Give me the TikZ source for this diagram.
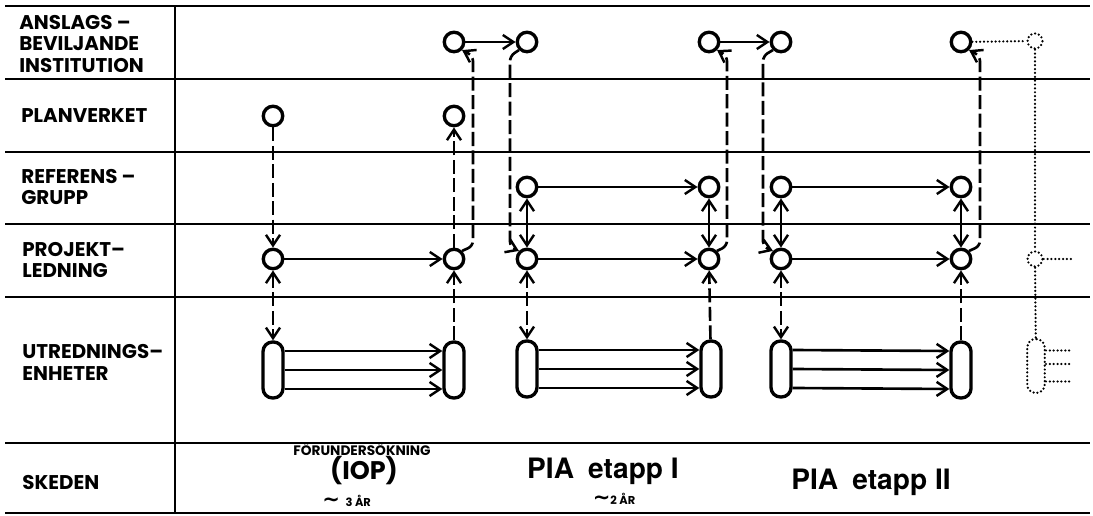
\documentclass[tikz,border=0pt]{standalone}
\usepackage{fontspec}
\usepackage{tikz}
\usetikzlibrary{arrows.meta}
\newfontfamily\labfont{Poppins}
\newfontfamily\helvfont{TeX Gyre Heros}
\newfontfamily\symfont{DejaVu Sans}
\newcommand{\approxsign}{{\symfont\bfseries\fontsize{12}{12}\selectfont ∼}}

\begin{document}
\begin{tikzpicture}[x=0.02cm, y=-0.02cm,
    >={Straight Barb[length=6pt,width=8pt,line width=1.4pt]},
    rule/.style={line width=1.1pt},
    stn/.style={circle, draw, line width=1.9pt, minimum size=0.39cm, inner sep=0pt},
    unit/.style={draw, line width=1.9pt, rounded corners=0.19cm, minimum width=0.4cm,
        minimum height=1.12cm, inner sep=0pt},
    flow/.style={line width=1.5pt},
    dashline/.style={line width=1.5pt, dash pattern=on 8pt off 2.5pt},
    dotline/.style={line width=1.4pt, dash pattern=on 0pt off 2.2pt, line cap=round},
    ghost/.style={circle, draw, dotline, minimum size=0.3cm, inner sep=0pt},
    ghostunit/.style={draw, dotline, rounded corners=0.17cm, minimum width=0.35cm,
        minimum height=1.08cm, inner sep=0pt},
    rowlab/.style={anchor=west, align=left, inner sep=0pt,
        font=\labfont\bfseries\fontsize{11.3}{12.5}\selectfont},
    stage/.style={inner sep=0pt, font=\helvfont\bfseries\fontsize{16}{18}\selectfont},
    small/.style={inner sep=0pt, font=\labfont\bfseries\fontsize{6.5}{7}\selectfont}
    ]
    \useasboundingbox (0,0) rectangle (1093,516);
    % the table
    \foreach \y in {6,79,152,224,297,443,513}
        \draw[rule] (5,\y) -- (1090,\y);
    \draw[rule] (175,6) -- (175,513);

    % row titles
    \node[rowlab] (anslag) at (19,44) {ANSLAGS –\\BEVILJANDE\\INSTITUTION};
    \node[rowlab] (planverk) at (21,116) {PLANVERKET};
    \node[rowlab] (referens) at (21,187) {REFERENS –\\GRUPP};
    \node[rowlab] (projekt) at (22,260) {PROJEKT–\\LEDNING};
    \node[rowlab] (utredn) at (22,362) {UTREDNINGS–\\ENHETER};
    \node[rowlab] (skeden) at (22,483) {SKEDEN};

    % stations, column by column
    \node[stn] (pl1) at (273,116) {};
    \node[stn] (pr1) at (273,259) {};
    \node[unit] (ut1) at (273,370) {};
    \node[stn] (an2) at (454,42) {};
    \node[stn] (pl2) at (454,116) {};
    \node[stn] (pr2) at (454,259) {};
    \node[unit] (ut2) at (454,370) {};
    \node[stn] (an3) at (527,42) {};
    \node[stn] (rf3) at (527,187) {};
    \node[stn] (pr3) at (527,259) {};
    \node[unit] (ut3) at (527,369) {};
    \node[stn] (an4) at (709,42) {};
    \node[stn] (rf4) at (709,187) {};
    \node[stn] (pr4) at (709,259) {};
    \node[unit] (ut4) at (711,369) {};
    \node[stn] (an5) at (781,42) {};
    \node[stn] (rf5) at (781,187) {};
    \node[stn] (pr5) at (781,259) {};
    \node[unit] (ut5) at (781,369) {};
    \node[stn] (an6) at (961,42) {};
    \node[stn] (rf6) at (961,187) {};
    \node[stn] (pr6) at (961,259) {};
    \node[unit] (ut6) at (961,370) {};
    % next stage, only sketched
    \node[ghost] (an7) at (1035,41) {};
    \node[ghost] (pr7) at (1035,259) {};
    \node[ghostunit] (ut7) at (1036,366) {};
    \coordinate (pr7end) at (1073,259);

    % solid flows
    \draw[flow,->] (pr1) -- (pr2);
    \draw[flow,->] (an2) -- (an3);
    \draw[flow,->] (rf3) -- (rf4);
    \draw[flow,->] (pr3) -- (pr4);
    \draw[flow,->] (an4) -- (an5);
    \draw[flow,->] (rf5) -- (rf6);
    \draw[flow,->] (pr5) -- (pr6);
    \foreach \a/\b in {ut1/ut2, ut3/ut4, ut5/ut6}
        \foreach \s in {-0.38cm, 0cm, 0.38cm}
            \draw[flow,->] ([yshift=\s]\a.east) -- ([yshift=\s]\b.west);
    \foreach \c in {3,4,5,6}
        \draw[flow,<->] (rf\c) -- (pr\c);

    % dashed links
    \draw[dashline,->] (pl1) -- (pr1);
    \draw[dashline,<->] (pr1) -- (ut1);
    \draw[dashline,->] (ut2) -- (pr2);
    \draw[dashline,->] (pr2) -- (pl2);
    \draw[dashline,<->] (pr3) -- (ut3);
    \draw[dashline,->] (ut4) -- (pr4);
    \draw[dashline,<->] (pr5) -- (ut5);
    \draw[dashline,->] (ut6) -- (pr6);
    % up to and down from the granting body
    \draw[dashline,->,rounded corners=3pt] (pr2.45) -- (473,246) -- (473,56) -- (an2.-45);
    \draw[dashline,->,rounded corners=3pt] (an3.-135) -- (510,56) -- (510,247) -- (pr3.135);
    \draw[dashline,->,rounded corners=3pt] (pr4.45) -- (727,246) -- (727,56) -- (an4.-45);
    \draw[dashline,->,rounded corners=3pt] (an5.-135) -- (763,56) -- (763,247) -- (pr5.135);
    \draw[dashline,->,rounded corners=3pt] (pr6.45) -- (980,246) -- (980,56) -- (an6.-45);

    % dotted continuation
    \draw[dotline] (an6) -- (an7);
    \draw[dotline] (an7) -- (pr7);
    \draw[dotline] (pr7) -- (ut7);
    \draw[dotline] (pr7) -- (pr7end);
    \foreach \s in {0.31cm, 0.04cm, -0.31cm}
        \draw[dotline] ([yshift=\s]ut7.east) -- ([yshift=\s]ut7.east -| pr7end);

    % stages
    \node[small, font=\labfont\bfseries\fontsize{7.8}{8}\selectfont] (forunders) at (362,449) {FÖRUNDERSÖKNING};
    \node[inner sep=0pt, font=\labfont\bfseries\fontsize{14.5}{15}\selectfont] (iop) at (364,471) {(IOP)};
    \node[small, anchor=west] (tre) at (322,501) {\approxsign\enspace 3 ÅR};
    \node[stage] (pia1) at (603,471) {PIA\enspace etapp I};
    \node[small] (tva) at (614,499) {\approxsign 2 ÅR};
    \node[stage] (pia2) at (871,482) {PIA\enspace etapp II};
\end{tikzpicture}
\end{document}
